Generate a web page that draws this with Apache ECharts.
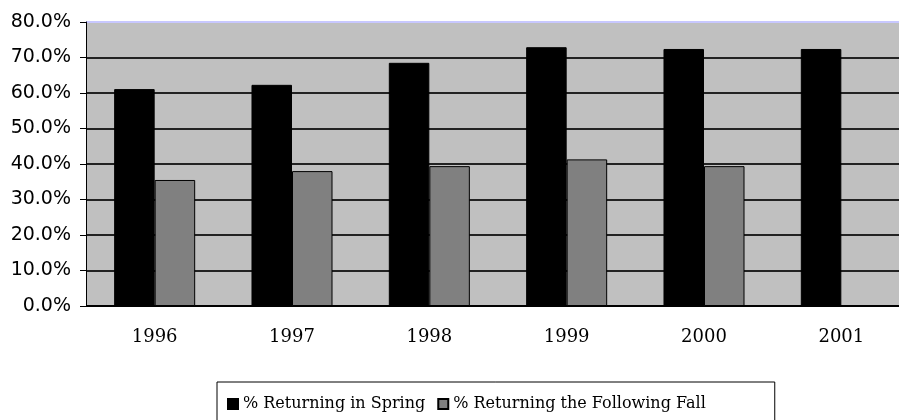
<!DOCTYPE html>
<html>
<head>
<meta charset="utf-8">
<script src="https://cdn.jsdelivr.net/npm/echarts@6/dist/echarts.min.js"></script>
<style>
  html, body { margin: 0; padding: 0; background: #fff; }
  #chart { width: 899px; height: 420px; }
</style>
</head>
<body>
<div id="chart"></div>
<script>
// data
var years  = ['1996', '1997', '1998', '1999', '2000', '2001']
var spring = [61.1, 62.3, 68.5, 72.9, 72.4, 72.4]
var fall   = [35.5, 38.0, 39.4, 41.3, 39.4, null]
var seriesNames = ['% Returning in Spring', '% Returning the Following Fall']

var chart = echarts.init(document.getElementById('chart'))

var option = {
    animation: false,
    backgroundColor: '#fff',
    grid: {
        left: 86, top: 22, bottom: 114, width: 824,
        outerBoundsMode: 'none', containLabel: false,
        show: true, backgroundColor: '#c0c0c0', borderWidth: 0
    },
    legend: {
        left: 217, top: 382,
        padding: [14, 69, 12, 10],
        itemGap: 12, itemWidth: 10, itemHeight: 10,
        icon: 'rect',
        borderColor: '#000', borderWidth: 1,
        textStyle: { fontFamily: 'DejaVu Serif', fontSize: 16, color: '#000' },
        data: seriesNames
    },
    xAxis: {
        type: 'category',
        data: years,
        axisLine: { lineStyle: { color: '#000', width: 1 } },
        axisTick: { length: 6, lineStyle: { color: '#000' } },
        axisLabel: { fontFamily: 'DejaVu Serif', fontSize: 18, color: '#000', margin: 22 }
    },
    yAxis: {
        type: 'value', min: 0, max: 80, interval: 10,
        axisLine: { show: true, lineStyle: { color: '#000', width: 1 } },
        axisTick: { show: true, length: 6, lineStyle: { color: '#000' } },
        axisLabel: {
            fontFamily: 'DejaVu Sans', fontSize: 19, color: '#000', margin: 15,
            formatter: function (v) { return v.toFixed(1) + '%' }
        },
        splitLine: {
            lineStyle: {
                color: ['#000', '#222', '#222', '#222', '#222', '#222', '#222', '#222', '#c8c8ff'],
                width: 2
            }
        }
    },
    series: [
        {
            name: seriesNames[0], type: 'bar', data: spring,
            barGap: '0%', barCategoryGap: '41%',
            itemStyle: { color: '#000', borderColor: '#000', borderWidth: 1 }
        },
        {
            name: seriesNames[1], type: 'bar', data: fall,
            itemStyle: { color: '#808080', borderColor: '#000', borderWidth: 1 }
        }
    ]
}

chart.setOption(option)
</script>
</body>
</html>
